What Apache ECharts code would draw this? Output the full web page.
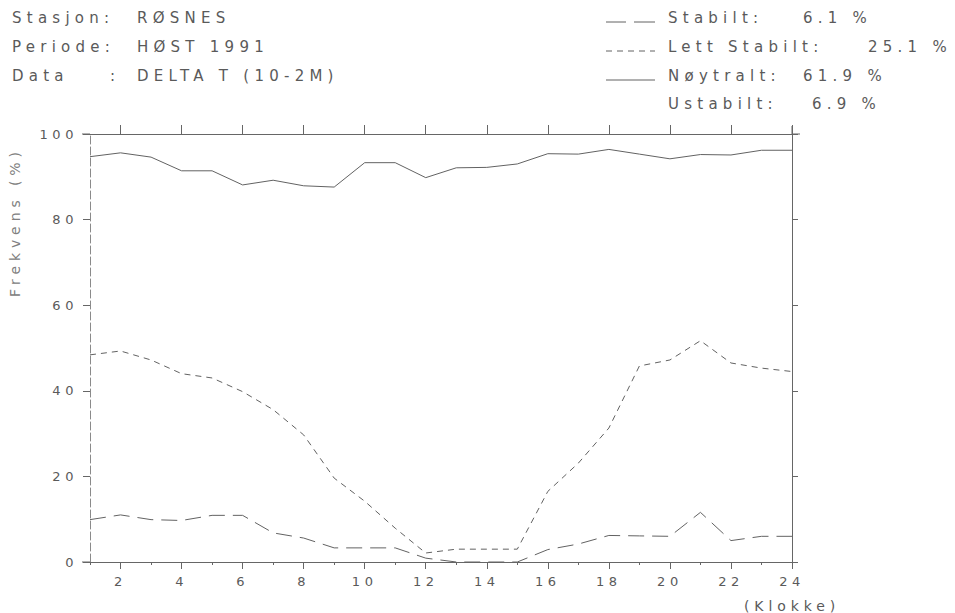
<!DOCTYPE html>
<html><head><meta charset="utf-8">
<script src="https://cdn.jsdelivr.net/npm/echarts@6/dist/echarts.min.js"></script>
<style>
html,body{margin:0;padding:0;background:#fff;}
#c{width:955px;height:613px;}
#c text{letter-spacing:0.35em; white-space:pre;}
</style></head><body><div id="c"></div>
<script>
// Hour of day (x categories)
const hours = ['1','2','3','4','5','6','7','8','9','10','11','12','13','14','15','16','17','18','19','20','21','22','23','24'];
// Cumulative frequencies (%) as plotted
const stabilt      = [9.9, 11.0, 9.9, 9.7, 10.9, 10.9, 6.8, 5.6, 3.3, 3.3, 3.3, 0.9, 0, 0, 0, 2.9, 4.2, 6.2, 6.1, 6.0, 11.6, 5.0, 6.0, 6.0];
const lettStabilt  = [48.4, 49.3, 47.2, 44.0, 43.0, 39.8, 35.6, 29.7, 19.6, 14.2, 7.9, 2.1, 3.0, 3.0, 3.0, 16.5, 23.1, 31.3, 45.8, 47.2, 51.7, 46.5, 45.3, 44.5];
const noytralt     = [94.7, 95.6, 94.6, 91.4, 91.4, 88.1, 89.2, 87.9, 87.6, 93.3, 93.3, 89.8, 92.1, 92.2, 93.0, 95.4, 95.3, 96.4, 95.3, 94.2, 95.2, 95.1, 96.2, 96.2];
const yTicks = [0, 20, 40, 60, 80, 100];
const headerLabels = ['Stasjon:', 'Periode:', 'Data', ':'];
const headerValues = ['RØSNES', 'HØST 1991', 'DELTA T (10-2M)'];
const legendNames = ['Stabilt:', 'Lett Stabilt:', 'Nøytralt:', 'Ustabilt:'];
const legendValues = ['6.1 %', '25.1 %', '61.9 %', '6.9 %'];

const FONT = 'DejaVu Sans';
const TXT = '#5a5a5a';
const AX = '#666';
const LINE = '#626262';
const even = (i) => (i % 2 === 1);

const chart = echarts.init(document.getElementById('c'), null, {renderer: 'svg'});

function txt(x, y, s, size) {
  return {
    type: 'text', x: x, y: y,
    style: {text: s, fontFamily: FONT, fontSize: size || 15, fill: TXT,
      textAlign: 'left', textVerticalAlign: 'middle'}
  };
}
function seg(x1, y1, x2, y2, dash, color) {
  return {type: 'line', shape: {x1, y1, x2, y2},
    style: {stroke: color || LINE, lineWidth: 1, lineDash: dash || null}};
}

const graphics = [
  txt(12, 18, headerLabels[0]), txt(137, 18, headerValues[0]),
  txt(12, 47, headerLabels[1]), txt(137, 47, headerValues[1]),
  txt(12, 76, headerLabels[2]), txt(110, 76, headerLabels[3]), txt(137, 76, headerValues[2]),
  seg(606, 22, 626, 22), seg(634, 22, 655, 22),
  seg(606, 51, 655, 51, [6, 5]),
  seg(606, 80, 655, 80),
  txt(668, 18, legendNames[0]), txt(803, 18, legendValues[0]),
  txt(668, 47, legendNames[1]), txt(868, 47, legendValues[1]),
  txt(668, 76, legendNames[2]), txt(803, 76, legendValues[2]),
  txt(668, 104, legendNames[3]), txt(812, 104, legendValues[3]),
  txt(744, 606, '(Klokke)', 14),
  // small axis-frame overhangs
  seg(82, 134, 90, 134, null, AX), seg(82, 562, 90, 562, null, AX),
  seg(792, 134, 800, 134, null, AX), seg(792, 126, 792, 134, null, AX),
  {type: 'text', x: 15, y: 222, rotation: Math.PI / 2,
   style: {text: 'Frekvens (%)', fontFamily: FONT, fontSize: 14, fill: '#808080',
     textAlign: 'center', textVerticalAlign: 'middle'}}
];

const axisLbl = {fontFamily: FONT, fontSize: 13, color: TXT};

chart.setOption({
  backgroundColor: '#fff',
  animation: false,
  grid: {left: 90, right: 163, top: 134, bottom: 51, containLabel: false},
  xAxis: [
    {type: 'category', data: hours, boundaryGap: false, position: 'bottom',
     axisLine: {show: true, lineStyle: {color: AX, width: 1}},
     axisTick: {show: true, interval: (i) => even(i), length: 7, lineStyle: {color: AX}},
     axisLabel: Object.assign({interval: (i) => even(i), margin: 13}, axisLbl),
     splitLine: {show: false}},
    {type: 'category', data: hours, boundaryGap: false, position: 'bottom',
     axisLine: {show: false},
     axisTick: {show: true, interval: 0, length: 3, lineStyle: {color: AX}},
     axisLabel: {show: false}, splitLine: {show: false}},
    {type: 'category', data: hours, boundaryGap: false, position: 'top',
     axisLine: {show: true, lineStyle: {color: AX, width: 1}},
     axisTick: {show: true, interval: (i) => even(i), length: 9, lineStyle: {color: AX}},
     axisLabel: {show: false}, splitLine: {show: false}}
  ],
  yAxis: [
    {type: 'value', min: 0, max: 100, interval: 20, position: 'left',
     axisLine: {show: true, lineStyle: {color: '#8a8a8a', width: 1, type: [8, 3]}},
     axisTick: {show: true, length: 7, lineStyle: {color: AX}},
     axisLabel: Object.assign({margin: 12, formatter: (v) => yTicks.includes(v) ? String(v) : ''}, axisLbl),
     splitLine: {show: false}},
    {type: 'value', min: 0, max: 100, interval: 20, position: 'right',
     axisLine: {show: true, lineStyle: {color: AX, width: 1}},
     axisTick: {show: true, length: 6, lineStyle: {color: AX}},
     axisLabel: {show: false}, splitLine: {show: false}}
  ],
  graphic: {elements: graphics},
  series: [
    {name: 'Stabilt', type: 'line', data: stabilt, symbol: 'none', xAxisIndex: 0, yAxisIndex: 0,
     lineStyle: {color: LINE, width: 1, type: [16, 8]}, z: 3},
    {name: 'Lett Stabilt', type: 'line', data: lettStabilt, symbol: 'none', xAxisIndex: 0, yAxisIndex: 0,
     lineStyle: {color: LINE, width: 1, type: [6, 5]}, z: 3},
    {name: 'Nøytralt', type: 'line', data: noytralt, symbol: 'none', xAxisIndex: 0, yAxisIndex: 0,
     lineStyle: {color: LINE, width: 1, type: 'solid'}, z: 3}
  ]
});
</script></body></html>
